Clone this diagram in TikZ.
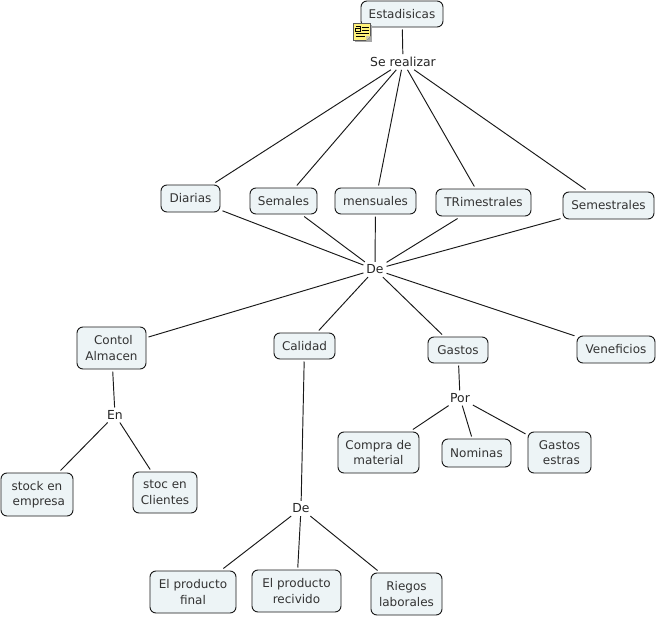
\documentclass[tikz,border=0pt]{standalone}
\usepackage{fontspec}
\setmainfont{DejaVu Sans}
\tikzset{
  box/.style={draw=black!90,line width=0.95pt,rounded corners=6pt,fill=boxfill,inner sep=0pt,outer sep=2.5pt,align=center,font=\fontsize{12}{15.5}\selectfont,text=black!80},
  lbl/.style={inner sep=1.5pt,outer sep=1.5pt,font=\fontsize{12.4}{15}\selectfont,text=black!85},
  con/.style={draw=black!90,line width=0.95pt},
}
\definecolor{boxfill}{HTML}{EDF4F6}
\definecolor{notey}{HTML}{FFF27A}
\newcommand{\bx}[6]{\node[box,minimum width=#4pt-#2pt,minimum height=#5pt-#3pt] (#1) at ({(#2+#4)/2},{(#3+#5)/2}) {#6};}
\begin{document}
\begin{tikzpicture}[x=1pt,y=-1pt]
\useasboundingbox[fill=white] (0,0) rectangle (656,616);
\bx{est}{361}{1}{443}{27}{Estadisicas}
\bx{dia}{161}{185}{220}{212}{Diarias}
\bx{sem}{250}{188}{317}{214}{Semales}
\bx{men}{335}{188}{416}{214}{mensuales}
\bx{tri}{436}{189}{531}{216}{TRimestrales}
\bx{smt}{563}{192}{654}{219}{Semestrales}
\bx{alm}{77}{327}{146}{369}{\ Contol\\Almacen}
\bx{cal}{274}{333}{335}{359}{Calidad}
\bx{gas}{428}{337}{488}{363}{Gastos}
\bx{ven}{577}{336}{655}{363}{Veneficios}
\bx{sto}{1}{473}{73}{516}{stock en\\\ empresa}
\bx{cli}{133}{472}{197}{513}{stoc en\\Clientes}
\bx{com}{338}{432}{419}{473}{Compra de\\material}
\bx{nom}{442}{439}{511}{467}{Nominas}
\bx{ges}{528}{432}{591}{473}{Gastos\\\ estras}
\bx{fin}{150}{571}{236}{613}{El producto\\final}
\bx{rec}{252}{570}{341}{612}{El producto\\recivido}
\bx{rie}{371}{573}{442}{615}{Riegos\\laborales}
\node[lbl] (ser) at (403,62) {Se realizar};
\node[lbl] (de) at (375,269.5) {De};
\node[lbl] (en) at (115,415) {En};
\node[lbl] (por) at (460,398) {Por};
\node[lbl] (dd) at (301,508.5) {De};
\foreach \a/\b in {est/ser,ser/dia,ser/sem,ser/men,ser/tri,ser/smt,
  dia/de,sem/de,men/de,tri/de,smt/de,de/alm,de/cal,de/gas,de/ven,
  alm/en,en/sto,en/cli,gas/por,por/com,por/nom,por/ges,cal/dd,dd/fin,dd/rec,dd/rie}
  \draw[con] (\a) -- (\b);
% note icon
\fill[black!35] (355,25) rectangle (371.5,41.5);
\draw[draw=black!65,fill=notey,line width=0.6pt] (353.5,23.5) -- (370.5,23.5) -- (370.5,36) -- (366,40.5) -- (353.5,40.5) -- cycle;
\fill[white!70!notey!80!black] (366,40.5) -- (366,36) -- (370.5,36) -- cycle;
\draw[black,line width=0.9pt] (355.5,26) -- (360,26) -- (360,31) -- (355.5,31) -- (355.5,28.5) -- (360,28.5);
\draw[black,line width=0.9pt] (361.5,27) -- (368.5,27) (361.5,30) -- (368.5,30) (355.5,33) -- (368.5,33) (355.5,36) -- (365,36);
\end{tikzpicture}
\end{document}
